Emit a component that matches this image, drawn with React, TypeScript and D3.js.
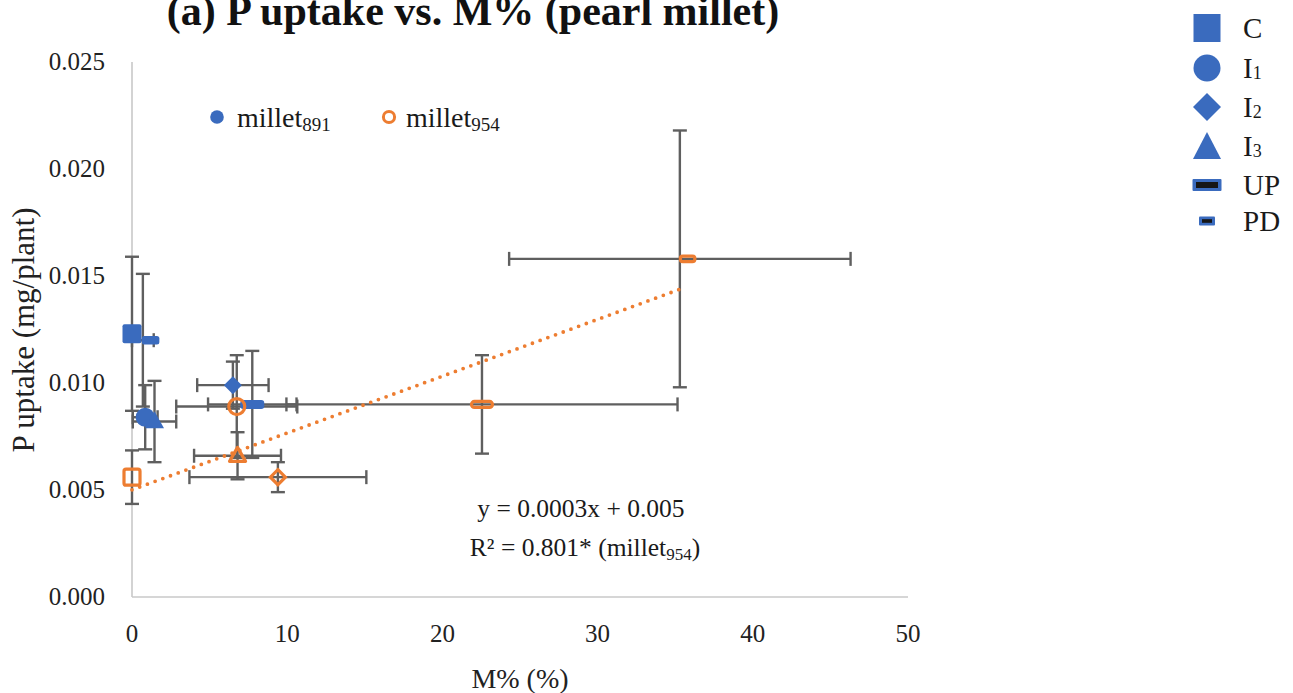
import React from "react";
import * as d3 from "d3";

// Treatments (shared by both cultivars)
const treatments = ["C", "I1", "I2", "I3", "UP", "PD"];
const legendLabels = [["C", ""], ["I", "1"], ["I", "2"], ["I", "3"], ["UP", ""], ["PD", ""]];

// millet891 — M% (x), P uptake (y) and their error sizes
const m891X = [0, 0.85, 6.5, 1.45, 7.75, 0.7];
const m891Y = [0.0123, 0.0084, 0.0099, 0.0082, 0.009, 0.012];
const m891XErr = [0, 0.8, 2.3, 1.4, 2.85, 0.7];
const m891YErr = [0.0036, 0.0015, 0.0011, 0.0019, 0.0025, 0.0031];

// millet954
const m954X = [0, 6.75, 9.4, 6.8, 22.55, 35.3];
const m954Y = [0.0056, 0.0089, 0.0056, 0.0066, 0.009, 0.0158];
const m954XErr = [0, 3.9, 5.7, 2.8, 12.6, 11.0];
const m954YErr = [0.00125, 0.0024, 0.0007, 0.0011, 0.0023, 0.006];

const xTicks = [0, 10, 20, 30, 40, 50];
const yTicks = [0, 0.005, 0.01, 0.015, 0.02, 0.025];

const BLUE = "#3A6BBE";
const ORANGE = "#ED7D31";
const BAR = "#5F5F5F";
const AXIS = "#C8C8C8";
const FONT = "'Liberation Serif', 'Times New Roman', serif";

const W = 1293;
const H = 693;
const left = 132;
const right = 908;
const top = 62;
const bottom = 597;

const x = d3.scaleLinear().domain([0, 50]).range([left, right]);
const y = d3.scaleLinear().domain([0, 0.025]).range([bottom, top]);

type Pt = { t: string; x: number; y: number; xe: number; ye: number };
const toPts = (xs: number[], ys: number[], xe: number[], ye: number[]): Pt[] =>
  treatments.map((t, i) => ({ t, x: xs[i], y: ys[i], xe: xe[i], ye: ye[i] }));

const s891 = toPts(m891X, m891Y, m891XErr, m891YErr);
const s954 = toPts(m954X, m954Y, m954XErr, m954YErr);

// least-squares fit for the millet954 trend line
const fit = (() => {
  const mx = d3.mean(m954X)!;
  const my = d3.mean(m954Y)!;
  let sxy = 0;
  let sxx = 0;
  m954X.forEach((v, i) => {
    sxy += (v - mx) * (m954Y[i] - my);
    sxx += (v - mx) * (v - mx);
  });
  const slope = sxy / sxx;
  return { slope, intercept: my - slope * mx };
})();

function ErrorBars({ p }: { p: Pt }) {
  const cx = x(p.x);
  const cy = y(p.y);
  const cap = 7;
  const els: React.ReactNode[] = [];
  if (p.ye > 0) {
    const y1 = y(p.y + p.ye);
    const y2 = y(p.y - p.ye);
    els.push(<line key="v" x1={cx} x2={cx} y1={y1} y2={y2} />);
    els.push(<line key="vt" x1={cx - cap} x2={cx + cap} y1={y1} y2={y1} />);
    els.push(<line key="vb" x1={cx - cap} x2={cx + cap} y1={y2} y2={y2} />);
  }
  if (p.xe > 0) {
    const x1 = x(p.x - p.xe);
    const x2 = x(p.x + p.xe);
    els.push(<line key="h" x1={x1} x2={x2} y1={cy} y2={cy} />);
    els.push(<line key="hl" x1={x1} x2={x1} y1={cy - cap} y2={cy + cap} />);
    els.push(<line key="hr" x1={x2} x2={x2} y1={cy - cap} y2={cy + cap} />);
  }
  return <g stroke={BAR} strokeWidth={2.4}>{els}</g>;
}

function Marker({ t, cx, cy, color, hollow }: {
  t: string; cx: number; cy: number; color: string; hollow: boolean;
}) {
  const fill = hollow ? "none" : color;
  const stroke = color;
  const sw = hollow ? 3.2 : 0;
  const inset = hollow ? 3 : 0;
  switch (t) {
    case "C": {
      const s = 19 - inset;
      return <rect x={cx - s / 2} y={cy - s / 2} width={s} height={s} rx={2} fill={fill} stroke={stroke} strokeWidth={sw} />;
    }
    case "I1": {
      const r = (19 - inset) / 2;
      return <circle cx={cx} cy={cy} r={r} fill={fill} stroke={stroke} strokeWidth={sw} />;
    }
    case "I2": {
      const s = 18 - inset;
      const d = `M${cx},${cy - s / 2}L${cx + s / 2},${cy}L${cx},${cy + s / 2}L${cx - s / 2},${cy}Z`;
      return <path d={d} fill={fill} stroke={stroke} strokeWidth={sw} strokeLinejoin="miter" />;
    }
    case "I3": {
      const w = 19 - inset;
      const h = 17 - inset;
      const d = `M${cx},${cy - h * 0.6}L${cx + w / 2},${cy + h * 0.4}L${cx - w / 2},${cy + h * 0.4}Z`;
      return <path d={d} fill={fill} stroke={stroke} strokeWidth={sw} strokeLinejoin="round" />;
    }
    case "UP": {
      const w = 24 - inset;
      const h = 9 - inset;
      return <rect x={cx - w / 2} y={cy - h / 2} width={w} height={h} rx={3} fill={fill} stroke={stroke} strokeWidth={sw} />;
    }
    case "PD": {
      const w = 17.5 - inset;
      const h = 8.5 - inset;
      // the dash marker sits just to the right of its point
      const x0 = cx - 1 + inset / 2;
      return <rect x={x0} y={cy - h / 2} width={w} height={h} rx={2.5} fill={fill} stroke={stroke} strokeWidth={sw} />;
    }
  }
  return null;
}

function Legend() {
  const mx = 1207;
  const tx = 1243;
  const rows = [28, 68, 107, 146, 185, 221];
  return (
    <g fontFamily={FONT} fontSize={29} fill="#1a1a1a">
      {treatments.map((t, i) => {
        const cy = rows[i];
        let mark: React.ReactNode;
        if (t === "C") mark = <rect x={mx - 13.5} y={cy - 14} width={27} height={28} fill={BLUE} />;
        else if (t === "I1") mark = <circle cx={mx} cy={cy} r={13.5} fill={BLUE} />;
        else if (t === "I2")
          mark = <path d={`M${mx},${cy - 14}L${mx + 14},${cy}L${mx},${cy + 14}L${mx - 14},${cy}Z`} fill={BLUE} />;
        else if (t === "I3")
          mark = <path d={`M${mx},${cy - 14}L${mx + 14},${cy + 13}L${mx - 14},${cy + 13}Z`} fill={BLUE} />;
        else if (t === "UP")
          mark = (
            <g>
              <rect x={mx - 14.5} y={cy - 6} width={29} height={12} fill={BLUE} rx={1} />
              <rect x={mx - 11} y={cy - 3} width={22} height={6} fill="#161616" />
            </g>
          );
        else
          mark = (
            <g>
              <rect x={mx - 8} y={cy - 4.5} width={16} height={9} fill={BLUE} rx={1} />
              <rect x={mx - 5} y={cy - 1.8} width={10} height={3.6} fill="#161616" />
            </g>
          );
        const [main, sub] = legendLabels[i];
        return (
          <g key={t}>
            {mark}
            <text x={tx} y={cy + 10}>
              {main}
              {sub && <tspan fontSize={18} dy={1}>{sub}</tspan>}
            </text>
          </g>
        );
      })}
    </g>
  );
}

export default function App() {
  const xEnd = d3.max(m954X)!;
  const trend = d3.line<number>()
    .x((v) => x(v))
    .y((v) => y(fit.intercept + fit.slope * v))([0, xEnd])!;

  return (
    <svg width={W} height={H} style={{ position: "absolute", left: 0, top: 0, background: "#fff" }}>
      {/* title */}
      <text x={473} y={25} textAnchor="middle" fontFamily={FONT} fontWeight="bold" fontSize={42} fill="#111">
        (a) P uptake vs. M% (pearl millet)
      </text>

      {/* axes */}
      <line x1={left} x2={left} y1={top} y2={bottom} stroke={AXIS} strokeWidth={1.6} />
      <line x1={left} x2={right} y1={bottom} y2={bottom} stroke={AXIS} strokeWidth={1.6} />

      <g fontFamily={FONT} fontSize={25} fill="#222">
        {yTicks.map((v) => (
          <text key={v} x={105} y={y(v) + 8} textAnchor="end">{d3.format(".3f")(v)}</text>
        ))}
        {xTicks.map((v) => (
          <text key={v} x={x(v)} y={642} textAnchor="middle">{v}</text>
        ))}
      </g>

      <text x={520} y={688} textAnchor="middle" fontFamily={FONT} fontSize={28} fill="#222">M% (%)</text>
      <text transform={`translate(34,330) rotate(-90)`} textAnchor="middle" fontFamily={FONT} fontSize={31} fill="#222">
        P uptake (mg/plant)
      </text>

      {/* error bars */}
      {s891.map((p) => <ErrorBars key={"e891" + p.t} p={p} />)}
      {s954.map((p) => <ErrorBars key={"e954" + p.t} p={p} />)}

      {/* millet954 trend line */}
      <path d={trend} fill="none" stroke={ORANGE} strokeWidth={3.8} strokeDasharray="0 8.2" strokeLinecap="round" />

      {/* markers */}
      {s891.map((p) => (
        <Marker key={"m891" + p.t} t={p.t} cx={x(p.x)} cy={y(p.y)} color={BLUE} hollow={false} />
      ))}
      {s954.map((p) => (
        <Marker key={"m954" + p.t} t={p.t} cx={x(p.x)} cy={y(p.y)} color={ORANGE} hollow={true} />
      ))}

      {/* series key */}
      <g fontFamily={FONT} fontSize={28} fill="#1a1a1a">
        <circle cx={217} cy={117} r={6.8} fill={BLUE} />
        <text x={237} y={127}>
          millet<tspan fontSize={19} dy={4}>891</tspan>
        </text>
        <circle cx={389} cy={117} r={5.6} fill="none" stroke={ORANGE} strokeWidth={3} />
        <text x={406} y={127}>
          millet<tspan fontSize={19} dy={4}>954</tspan>
        </text>
      </g>

      {/* fit annotation */}
      <g fontFamily={FONT} fontSize={25.5} fill="#1a1a1a" textAnchor="middle">
        <text x={581} y={517}>y = 0.0003x + 0.005</text>
        <text x={585} y={556}>
          R² = 0.801* (millet<tspan fontSize={17} dy={4}>954</tspan><tspan dy={-4}>)</tspan>
        </text>
      </g>

      <Legend />
    </svg>
  );
}
